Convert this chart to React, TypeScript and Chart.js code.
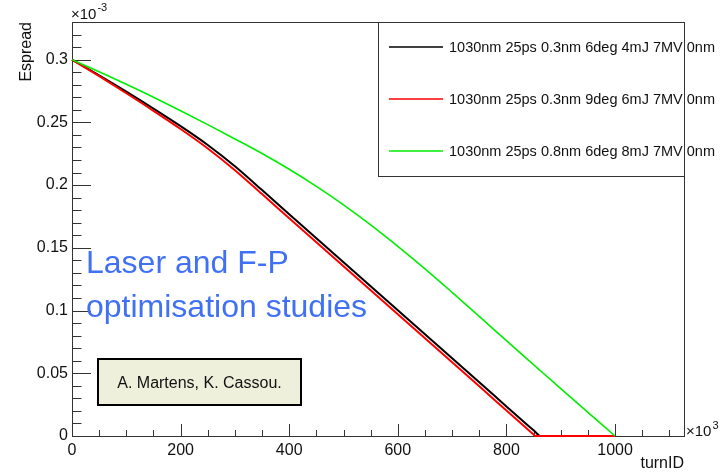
import { useEffect, useRef } from 'react';
import { Chart, registerables } from 'chart.js';

Chart.register(...registerables);

// ---------------- data ----------------
const turnID = [0, 50, 100, 150, 200, 250, 300, 350, 400, 450, 500, 550, 600, 650, 700, 750, 800, 850, 853, 862, 900, 950, 1000];

const espreadBlack = [0.3, 0.2875, 0.2745, 0.261, 0.247, 0.232, 0.215, 0.196, 0.1768, 0.1577, 0.1385, 0.1194, 0.1002, 0.0811, 0.0619, 0.0428, 0.0236, 0.0045, 0.0034, 0, 0, 0, 0];
const espreadRed = [0.3, 0.2868, 0.2732, 0.2592, 0.2447, 0.2292, 0.2119, 0.1928, 0.1736, 0.1545, 0.1353, 0.1162, 0.097, 0.0779, 0.0587, 0.0396, 0.0204, 0.0012, 0, 0, 0, 0, 0];
const espreadGreen = [0.3, 0.2903, 0.2803, 0.27, 0.2592, 0.2482, 0.2368, 0.2252, 0.2126, 0.199, 0.1843, 0.1683, 0.1512, 0.1333, 0.1145, 0.0953, 0.076, 0.0568, 0.0557, 0.0522, 0.0378, 0.0189, 0];

const seriesLabels = [
  '1030nm 25ps 0.3nm 6deg 4mJ 7MV 0nm',
  '1030nm 25ps 0.3nm 9deg 6mJ 7MV 0nm',
  '1030nm 25ps 0.8nm 6deg 8mJ 7MV 0nm',
];
const seriesColors = ['#000000', '#ff0000', '#00ee00'];

const xAxisMax = 1127;
const yAxisMax = 0.33;
const xMajorStep = 200;
const yMajorStep = 0.05;

const noteLines = ['Laser and F-P', 'optimisation studies'];
const authorText = 'A. Martens, K. Cassou.';

const FONT = "'Liberation Sans', Arial, Helvetica, sans-serif";

const rootDecor = {
  id: 'rootDecor',
  beforeDatasetsDraw(chart: any) {
    const { ctx, chartArea: a, scales } = chart;
    const x = scales.x;
    const y = scales.y;
    ctx.save();
    ctx.strokeStyle = '#333';
    ctx.lineWidth = 1;
    ctx.beginPath();
    for (let i = 0; i <= 33; i++) {
      const py = Math.round(y.getPixelForValue(i / 100)) + 0.5;
      const len = i % 5 === 0 ? 19 : 9.5;
      ctx.moveTo(a.left, py);
      ctx.lineTo(a.left + len, py);
    }
    for (let t = 0; t <= xAxisMax; t += 50) {
      const px = Math.round(x.getPixelForValue(t)) + 0.5;
      const len = t % 200 === 0 ? 12 : 6;
      ctx.moveTo(px, a.bottom);
      ctx.lineTo(px, a.bottom - len);
    }
    ctx.stroke();
    ctx.strokeRect(Math.round(a.left) + 0.5, Math.round(a.top) + 0.5, Math.round(a.right - a.left), Math.round(a.bottom - a.top));
    ctx.restore();
  },
  afterDatasetsDraw(chart: any) {
    const { ctx, chartArea: a } = chart;
    ctx.save();
    // legend box
    const lx0 = 378.5, ly0 = Math.round(a.top) + 0.5, lx1 = Math.round(a.right) + 0.5, ly1 = 176.5;
    ctx.fillStyle = '#ffffff';
    ctx.fillRect(lx0, ly0, lx1 - lx0, ly1 - ly0);
    const rows = [47, 99, 151];
    ctx.font = `14.5px ${FONT}`;
    ctx.textBaseline = 'middle';
    ctx.textAlign = 'left';
    seriesLabels.forEach((label, i) => {
      ctx.strokeStyle = seriesColors[i];
      ctx.lineWidth = 1.6;
      ctx.beginPath();
      ctx.moveTo(389, rows[i]);
      ctx.lineTo(443, rows[i]);
      ctx.stroke();
      ctx.fillStyle = '#111';
      ctx.fillText(label, 449, rows[i] + 1);
    });
    ctx.strokeStyle = '#333';
    ctx.lineWidth = 1;
    ctx.strokeRect(lx0, ly0, lx1 - lx0, ly1 - ly0);

    // blue note
    ctx.fillStyle = '#4070f4';
    ctx.font = `32px ${FONT}`;
    ctx.textBaseline = 'alphabetic';
    ctx.fillText(noteLines[0], 86, 273);
    ctx.fillText(noteLines[1], 86, 317);

    // author box
    ctx.fillStyle = '#eef0dc';
    ctx.fillRect(98, 359, 203, 46);
    ctx.strokeStyle = '#000';
    ctx.lineWidth = 2;
    ctx.strokeRect(98, 359, 203, 46);
    ctx.fillStyle = '#111';
    ctx.font = `16px ${FONT}`;
    ctx.textAlign = 'center';
    ctx.fillText(authorText, 199.5, 387.5);

    // exponents
    ctx.textAlign = 'left';
    ctx.fillStyle = '#111';
    ctx.font = `15px ${FONT}`;
    ctx.fillText('\u00d710', 71, 18.5);
    let w = ctx.measureText('\u00d710').width;
    ctx.font = `11px ${FONT}`;
    ctx.fillText('-3', 71 + w + 1, 10.5);

    ctx.font = `15px ${FONT}`;
    ctx.fillText('\u00d710', 686, 436);
    w = ctx.measureText('\u00d710').width;
    ctx.font = `11px ${FONT}`;
    ctx.fillText('3', 686 + w + 1, 429);
    ctx.restore();
  },
};

export default function App() {
  const ref = useRef<HTMLCanvasElement | null>(null);
  useEffect(() => {
    document.body.style.margin = '0';
    const canvas = ref.current;
    if (!canvas) return;
    const series = [espreadBlack, espreadRed, espreadGreen];
    const widths = [2, 2, 1.6];
    const orders = [3, 2, 1];
    const chart = new Chart(canvas, {
      type: 'line',
      data: {
        datasets: series.map((vals, i) => ({
          label: seriesLabels[i],
          data: turnID.map((t, k) => ({ x: t, y: vals[k] })),
          borderColor: seriesColors[i],
          backgroundColor: seriesColors[i],
          borderWidth: widths[i],
          pointRadius: 0,
          fill: false,
          order: orders[i],
          clip: 3,
          cubicInterpolationMode: 'monotone' as const,
        })),
      },
      options: {
        responsive: false,
        animation: false,
        events: [],
        layout: { padding: { top: 22, right: 40, left: 0, bottom: 0 } },
        plugins: { legend: { display: false }, tooltip: { enabled: false } },
        scales: {
          x: {
            type: 'linear',
            min: 0,
            max: xAxisMax,
            grid: { display: false, drawTicks: false },
            border: { display: false },
            ticks: {
              stepSize: xMajorStep,
              includeBounds: false,
              autoSkip: false,
              maxRotation: 0,
              padding: 5,
              color: '#111',
              font: { family: FONT, size: 16 },
              callback: (v: any) => String(Math.round(Number(v))),
            },
            title: {
              display: true,
              text: 'turnID',
              align: 'end',
              color: '#111',
              font: { family: FONT, size: 16, lineHeight: 1 },
              padding: { top: 0, bottom: 3 },
            },
            afterFit: (s: any) => { s.height = 39; },
          },
          y: {
            type: 'linear',
            min: 0,
            max: yAxisMax,
            grid: { display: false, drawTicks: false },
            border: { display: false },
            ticks: {
              stepSize: yMajorStep,
              includeBounds: false,
              padding: 4,
              color: '#111',
              font: { family: FONT, size: 16 },
              callback: (v: any) => String(Number(Number(v).toFixed(2))),
            },
            title: {
              display: true,
              text: 'Espread',
              align: 'end',
              color: '#111',
              font: { family: FONT, size: 16, lineHeight: 1 },
              padding: { top: 19, bottom: 0 },
            },
            afterFit: (s: any) => { s.width = 72; },
          },
        },
      },
      plugins: [rootDecor],
    } as any);
    return () => chart.destroy();
  }, []);
  return (
    <div style={{ position: 'absolute', left: 0, top: 0, width: 724, height: 475 }}>
      <canvas ref={ref} width={724} height={475} style={{ display: 'block' }} />
    </div>
  );
}
